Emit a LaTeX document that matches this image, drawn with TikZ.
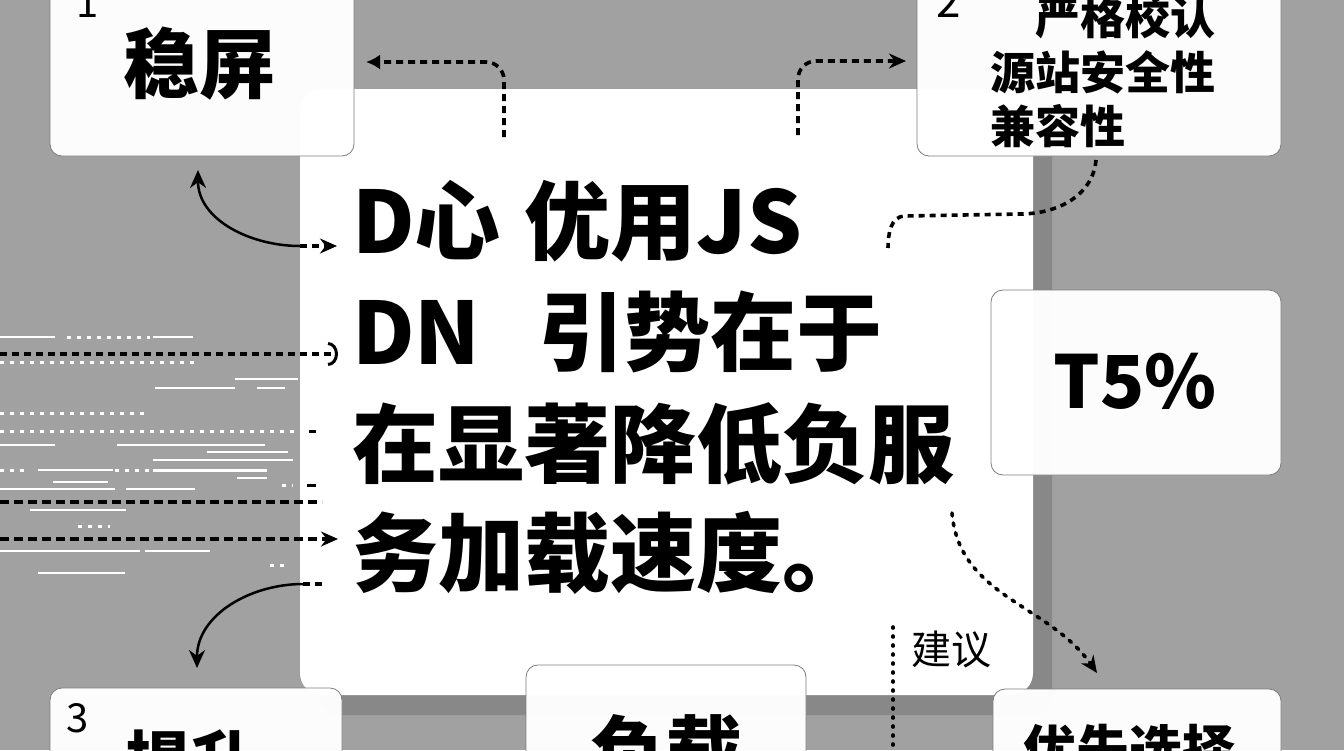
\documentclass[tikz,border=0pt]{standalone}
\usepackage{fontspec}
\setmainfont{Noto Sans CJK SC}
\usetikzlibrary{arrows.meta}
\definecolor{bg}{RGB}{161,161,161}
\definecolor{shad}{RGB}{136,136,136}
\definecolor{edge}{RGB}{125,125,125}
\newcommand\fsz[1]{\fontsize{#1}{#1}\selectfont}
\tikzset{
  card/.style={draw=edge, line width=0.8pt, fill=white, fill opacity=0.97, rounded corners=12pt, inner sep=0pt},
  txt/.style={inner sep=0pt, text=black},
  dashlink/.style={line width=3.6pt, dash pattern=on 7pt off 5pt, black},
  heavydash/.style={line width=4pt, dash pattern=on 9pt off 5pt, black},
  dotlink/.style={line width=3.6pt, dash pattern=on 1pt off 8pt, line cap=round, black},
  solidlink/.style={line width=2.5pt, black},
  noise/.style={white, line width=2pt},
  noised/.style={white, line width=3pt, dash pattern=on 4pt off 6pt},
  mytip/.tip={Stealth[length=17pt,width=15pt]}
}
\begin{document}
\begin{tikzpicture}[x=1pt,y=-1pt]
\useasboundingbox (0,0) rectangle (1344,750);
\fill[bg] (0,0) rectangle (1344,750);
% shadow and main panel
\fill[shad, rounded corners=20pt] (320,110) rectangle (1052,715);
\node[fill=white, rounded corners=22pt, minimum width=733pt, minimum height=606pt, inner sep=0pt] (main) at (666.5,392) {};

% left decorative noise lines
\foreach \yy/\xa/\xb/\ww in {337/0/55/1.5, 337/153/193/2.5, 379/235/298/1.5, 388/155/235/2.5, 388/257/285/1.5,
  445/0/55/2, 445/117/265/2.5, 452/207/288/2, 460/153/293/1.5, 470/38/113/2, 470/153/267/3,
  478/237/267/2, 482/53/108/2, 489/0/115/2, 489/126/195/2.5, 510/30/126/2, 551/0/140/2.5,
  551/145/210/2.5, 573/38/125/1.2}
  \draw[noise, line width=\ww pt] (\xa,\yy) -- (\xb,\yy);
\foreach \yy/\xa/\xb in {337/67/150, 362/0/195, 413/0/145, 431/0/295, 470/0/25, 470/115/150, 485/282/293, 526/78/110, 565/270/285}
  \draw[noised] (\xa,\yy) -- (\xb,\yy);

% cards
\node[card, minimum width=304pt, minimum height=170pt] (b1) at (202,71) {};
\node[card, minimum width=364pt, minimum height=170pt] (b2) at (1099,71) {};
\node[card, minimum width=290pt, minimum height=185pt] (bt) at (1136,382.5) {};
\node[card, minimum width=292pt, minimum height=90pt] (b3) at (196,733) {};
\node[card, minimum width=280pt, minimum height=110pt] (bl) at (666,720) {};
\node[card, minimum width=288pt, minimum height=90pt] (bp) at (1137,734) {};

% texts
\node[txt, anchor=base west, font=\fsz{40pt}] (n1) at (76,17) {1};
\node[txt, anchor=base, font=\bfseries\fsz{76pt}] (t1) at (199,92) {稳屏};
\node[txt, anchor=base west, font=\fsz{44pt}] (n2) at (936,17) {2};
\node[txt, anchor=base west, font=\bfseries\fsz{45pt}] (l21) at (1035,34) {严格校认};
\node[txt, anchor=base west, font=\bfseries\fsz{45pt}] (l22) at (990,89) {源站安全性};
\node[txt, anchor=base west, font=\bfseries\fsz{45pt}] (l23) at (990,143) {兼容性};
\node[txt, anchor=base, font=\bfseries\fsz{73pt}] (tt) at (1135,408) {T5\%};
\node[txt, anchor=base west, font=\fsz{40pt}] (n3) at (66,732) {3};
\node[txt, anchor=base west, font=\bfseries\fsz{64pt}] (t3) at (126,784) {提升};
\node[txt, anchor=base, font=\bfseries\fsz{76pt}] (tl) at (666,779) {负载};
\node[txt, anchor=base, font=\bfseries\fsz{53pt}] (tp) at (1129,769) {优先选择};
\node[txt, anchor=base west, font=\fsz{40pt}] (jy) at (911,664) {建议};

\node[txt, anchor=base west, font=\bfseries\fsz{86pt}] (m1) at (352,253) {D心\hspace{24pt}优用JS};
\node[txt, anchor=base west, font=\bfseries\fsz{86pt}] (m2) at (352,364) {DN\hspace{58pt}引势在于};
\node[txt, anchor=base west, font=\bfseries\fsz{86pt}] (m3) at (352,476) {在显著降低负服};
\node[txt, anchor=base west, font=\bfseries\fsz{86pt}] (m4) at (352,585) {务加载速度。};

% connectors
\coordinate (c1) at (504,137); \coordinate (e1) at (366,62);
\draw[dashlink, rounded corners=18pt, -{Latex[length=14pt,width=15pt]}] (c1) |- (e1);
\coordinate (c2) at (798,135); \coordinate (e2) at (906,61);
\draw[dashlink, rounded corners=18pt, -mytip] (c2) |- (e2);
\coordinate (c3) at (1096,160); \coordinate (e3) at (888,248);
\draw[dashlink, dash pattern=on 6pt off 5pt] (c3) to[out=-95,in=0] (1020,214) -- (905,216) to[out=180,in=90] (e3);

\coordinate (c4) at (300,246); \coordinate (e4a) at (198,170); \coordinate (e4b) at (337,246);
\draw[solidlink, -{Stealth[length=18pt,width=16pt]}] (c4) to[out=180,in=-90] (e4a);
\draw[dashlink, -mytip] (c4) -- (e4b);

\coordinate (s1) at (0,354); \coordinate (f1) at (338,354);
\draw[dashlink, -{Arc Barb[length=10pt,width=24pt,line width=3pt]}] (s1) -- (f1);
\coordinate (s2) at (309,431); \coordinate (f2) at (316,431);
\draw[line width=3pt] (s2) -- (f2);
\coordinate (s3) at (307,485); \coordinate (f3) at (316,485);
\draw[line width=3pt] (s3) -- (f3);
\coordinate (s4) at (0,502); \coordinate (f4) at (322,502);
\draw[heavydash] (s4) -- (f4);
\coordinate (s5) at (0,539); \coordinate (f5) at (338,539);
\draw[heavydash, -mytip] (s5) -- (f5);

\coordinate (c6) at (303,584); \coordinate (e6) at (197,668); \coordinate (f6) at (322,584);
\draw[solidlink, -{Stealth[length=18pt,width=16pt]}] (c6) to[out=180,in=90] (e6);
\draw[dashlink] (c6) -- (f6);

\coordinate (c7) at (952,513); \coordinate (e7) at (1097,673);
\draw[dotlink, dash pattern=on 3pt off 7pt, -mytip] (c7) to[out=-85,in=125] (e7);

\coordinate (v1) at (893,627); \coordinate (v2) at (893,752);
\draw[dotlink] (v1) -- (v2);
\end{tikzpicture}
\end{document}
